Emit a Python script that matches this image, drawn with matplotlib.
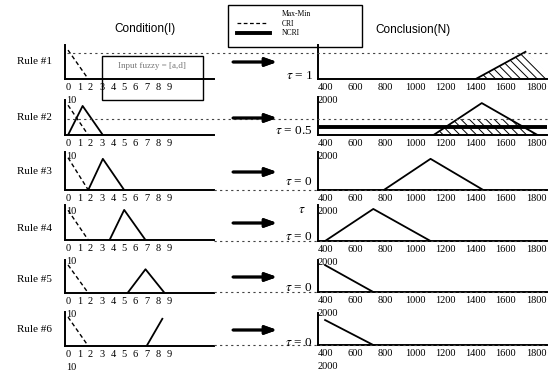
import matplotlib
matplotlib.use("Agg")
import matplotlib.pyplot as plt
import numpy as np
from matplotlib.lines import Line2D
from matplotlib.patches import Rectangle, Polygon

plt.rcParams["mathtext.fontset"] = "stix"

# ---------------- data ----------------
rule_labels = ["Rule #1", "Rule #2", "Rule #3", "Rule #4", "Rule #5", "Rule #6"]
tau_labels = ["1", "0.5", "0", "0", "0", "0"]

left_ticks = list(range(10))
right_ticks = [400, 600, 800, 1000, 1200, 1400, 1600, 1800]

# input fuzzy set (dashed) in the condition panels
input_x = [0, 1.8]
input_y = [0.85, 0]

# condition membership functions (solid)
cond_x = [[], [0, 1.3, 3.1], [1.8, 3.1, 5.0], [3.7, 5.0, 6.9], [5.3, 6.9, 8.6], [7.0, 8.4]]
cond_y = [[], [0, 0.83, 0], [0, 0.82, 0], [0, 0.86, 0], [0, 0.72, 0], [0, 0.8]]

# conclusion membership functions (solid)
conc_x = [[1400, 1730], [1120, 1440, 1810], [790, 1100, 1450], [400, 720, 1100], [400, 720], [400, 720]]
conc_y = [[0, 0.8], [0, 0.84, 0], [0, 0.82, 0], [0, 0.89, 0], [0.84, 0], [0.78, 0]]

# Max-Min levels (dotted) as fraction of conclusion panel height
maxmin_level = [0.77, 0.42, 0, 0, 0, 0]
# NCRI level in rule 2
ncri_level = 0.21

# ---------------- layout ----------------
W, H = 554, 371
fig = plt.figure(figsize=(W / 100, H / 100), dpi=100)
fig.patch.set_facecolor("white")

def rect(x0, ytop, x1, ybot):
    return [x0 / W, 1 - ybot / H, (x1 - x0) / W, (ybot - ytop) / H]

def fx(x):
    return x / W

def fy(y):
    return 1 - y / H

left_rows = [(45, 79), (100, 135), (152, 190), (205, 240), (260, 293), (312, 346)]
right_rows = [(45, 79), (97, 135), (152, 190), (205, 241), (260, 292), (313, 345)]
LX0, LX1 = 65, 214
RX0, RX1 = 318, 547
LXLIM = (-0.27, 13.0)
RXLIM = (353, 1873)

serif = "Liberation Serif"
sans = "Liberation Sans"

def style(ax, ticks, lim):
    ax.set_xlim(*lim)
    ax.set_ylim(0, 1)
    for s in ("top", "right"):
        ax.spines[s].set_visible(False)
    for s in ("left", "bottom"):
        ax.spines[s].set_linewidth(1.4)
    ax.set_yticks([])
    ax.set_xticks(ticks)
    ax.set_xticklabels([str(t) for t in ticks], fontfamily=serif, fontsize=7.5)
    ax.tick_params(axis="x", length=0, pad=3)
    ax.patch.set_alpha(0)

lefts, rights = [], []
for i in range(6):
    lt, lb = left_rows[i]
    axl = fig.add_axes(rect(LX0, lt, LX1, lb))
    style(axl, left_ticks, LXLIM)
    axl.plot(input_x, input_y, color="black", lw=1.0, ls=(0, (3, 2)))
    if cond_x[i]:
        axl.plot(cond_x[i], cond_y[i], color="black", lw=1.3)
    axl.annotate("10", xy=(LXLIM[0], 0), xycoords=("data", "axes fraction"),
                 xytext=(1, -12), textcoords="offset points", ha="left", va="top",
                 fontfamily=serif, fontsize=7.5)
    lefts.append(axl)

    rt, rb = right_rows[i]
    axr = fig.add_axes(rect(RX0, rt, RX1, rb))
    style(axr, right_ticks, RXLIM)
    axr.plot(conc_x[i], conc_y[i], color="black", lw=1.3)
    axr.annotate("2000", xy=(RXLIM[0], 0), xycoords=("data", "axes fraction"),
                 xytext=(0, -12), textcoords="offset points", ha="left", va="top",
                 fontfamily=serif, fontsize=7.5)
    rights.append(axr)

plt.rcParams["hatch.linewidth"] = 0.7

# rule 1 hatched region (right of ramp)
ax = rights[0]
poly1 = [(conc_x[0][0], 0), (conc_x[0][1], conc_y[0][1]), (RXLIM[1], 0.15), (RXLIM[1], 0)]
ax.add_patch(Polygon(poly1, closed=True, fill=False, hatch="\\\\\\\\", lw=0, edgecolor="black"))

# rule 2 hatched region: triangle clipped at Max-Min level
ax = rights[1]
cx, cy = conc_x[1], conc_y[1]
lvl = maxmin_level[1]
xl = np.interp(lvl, [cy[0], cy[1]], [cx[0], cx[1]])
xr = np.interp(lvl, [cy[2], cy[1]], [cx[2], cx[1]])
poly2 = [(cx[0], 0), (xl, lvl), (xr, lvl), (cx[2], 0)]
ax.add_patch(Polygon(poly2, closed=True, fill=False, hatch="\\\\\\\\", lw=0, edgecolor="black"))
ax.axhline(ncri_level, color="black", lw=2.8)

# Max-Min dotted lines across the panels
for i in range(6):
    axr = rights[i]
    ydisp = axr.transData.transform((RXLIM[0], maxmin_level[i]))[1]
    yf = fig.transFigure.inverted().transform((0, ydisp))[1]
    xstart = fx(LX0 + 2) if maxmin_level[i] > 0 else fx(LX1)
    fig.add_artist(Line2D([xstart, fx(RX1)], [yf, yf], transform=fig.transFigure,
                          color="#444444", lw=0.8, ls=(0, (2, 3))))

# arrows and tau labels
arrow_y = [62, 118, 172, 223, 277, 330]
tau_y = [76, 131, 182, 237, 288, 343]
rule_y = [62, 118, 172, 228, 280, 330]
for i in range(6):
    fig.add_artist(plt.annotate("", xy=(fx(277), fy(arrow_y[i])), xytext=(fx(233), fy(arrow_y[i])),
                                xycoords="figure fraction", textcoords="figure fraction",
                                arrowprops=dict(arrowstyle="-|>,head_length=0.7,head_width=0.25",
                                                lw=2.0, color="black", shrinkA=0, shrinkB=0)))
    fig.text(fx(313), fy(tau_y[i]), "$\\tau$ = " + tau_labels[i], ha="right", va="center",
             fontfamily=serif, fontsize=9.5)
    fig.text(fx(17), fy(rule_y[i]), rule_labels[i], ha="left", va="center",
             fontfamily=serif, fontsize=8)

# stray tau in rule 4
fig.text(fx(302), fy(210), "$\\tau$", ha="center", va="center", fontfamily=serif, fontsize=9.5)

# titles
fig.text(fx(145), fy(29), "Condition(I)", ha="center", va="center", fontfamily=sans, fontsize=8.5)
fig.text(fx(413), fy(30), "Conclusion(N)", ha="center", va="center", fontfamily=sans, fontsize=8.5)

# input fuzzy box
fig.add_artist(Rectangle((fx(102), fy(100)), fx(203) - fx(102), fy(56) - fy(100),
                         transform=fig.transFigure, fill=False, lw=1.0, color="black"))
fig.text(fx(152), fy(66), "Input fuzzy = [a,d]", ha="center", va="center",
         fontfamily=serif, fontsize=6.5, color="#777777")

# legend box
fig.add_artist(Rectangle((fx(228), fy(47)), fx(362) - fx(228), fy(5) - fy(47),
                         transform=fig.transFigure, fill=False, lw=1.0, color="black"))
fig.add_artist(Line2D([fx(237), fx(268)], [fy(23), fy(23)], transform=fig.transFigure,
                      color="black", lw=0.9, ls=(0, (3, 2))))
fig.add_artist(Line2D([fx(237), fx(270)], [fy(33), fy(33)], transform=fig.transFigure,
                      color="black", lw=2.8))
for txt, yy in [("Max-Min", 14), ("CRI", 24), ("NCRI", 33)]:
    fig.text(fx(282), fy(yy), txt, ha="left", va="center", fontfamily=serif, fontsize=5.5)

fig.savefig("out.png", dpi=100)
